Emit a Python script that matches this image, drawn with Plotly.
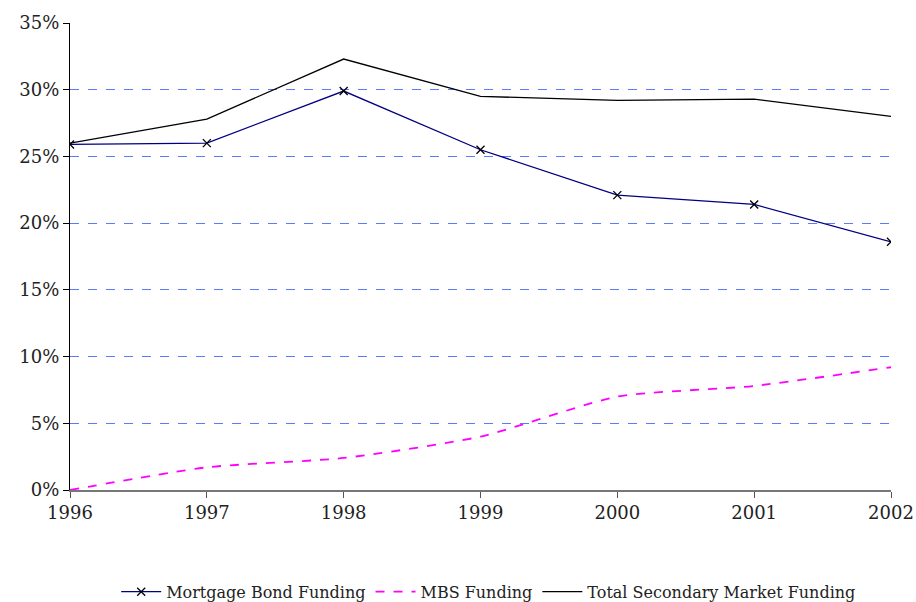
import plotly.graph_objects as go

# dados
anos = [1996, 1997, 1998, 1999, 2000, 2001, 2002]
mortgage_bond = [25.9, 26.0, 29.9, 25.5, 22.1, 21.4, 18.6]
mbs = [0.0, 1.7, 2.4, 4.0, 7.0, 7.8, 9.2]
total_secundario = [26.0, 27.8, 32.3, 29.5, 29.2, 29.3, 28.0]

fonte = "DejaVu Serif"

fig = go.Figure()

fig.add_trace(go.Scatter(x=anos, y=mortgage_bond, mode='lines+markers',
                         name="Mortgage Bond Funding",
                         line=dict(color='#000080', width=1.3),
                         marker=dict(symbol='x-thin', size=8,
                                     line=dict(color='black', width=1.3))))
fig.add_trace(go.Scatter(x=anos, y=mbs, mode='lines', name="MBS Funding",
                         line=dict(color='#ff00ff', width=1.8, dash='dash',
                                   shape='spline', smoothing=0.6)))
fig.add_trace(go.Scatter(x=anos, y=total_secundario, mode='lines',
                         name="Total Secondary Market Funding",
                         line=dict(color='black', width=1.3)))

fig.update_layout(
    width=916, height=602,
    paper_bgcolor='white', plot_bgcolor='white',
    margin=dict(l=70, r=25, t=23, b=112, autoexpand=False),
    font=dict(family=fonte, color='#222222', size=18),
    showlegend=True,
    legend=dict(orientation='h', x=0.51, xanchor='center',
                yref='container', y=0.017, yanchor='middle',
                font=dict(size=16), itemwidth=40, tracegroupgap=0),
    xaxis=dict(range=[1996, 2002], tickmode='array', tickvals=anos,
               ticks='outside', ticklen=6, tickcolor='#555555',
               showline=True, linecolor='#777777', linewidth=1.5,
               showgrid=False, zeroline=False, automargin=False,
               ticklabeloverflow='allow'),
    yaxis=dict(range=[0, 35], dtick=5, ticksuffix='%',
               ticks='outside', ticklen=6, tickcolor='black',
               showline=True, linecolor='black', linewidth=1.3,
               showgrid=True, gridcolor='#5b7bff', griddash='dash', gridwidth=1,
               zeroline=False, automargin=False),
)

# tira a margem padrão do body para a figura ocupar a janela toda
fig.write_html("out.html", config={'displayModeBar': False},
               post_script="document.body.style.margin='0';")
